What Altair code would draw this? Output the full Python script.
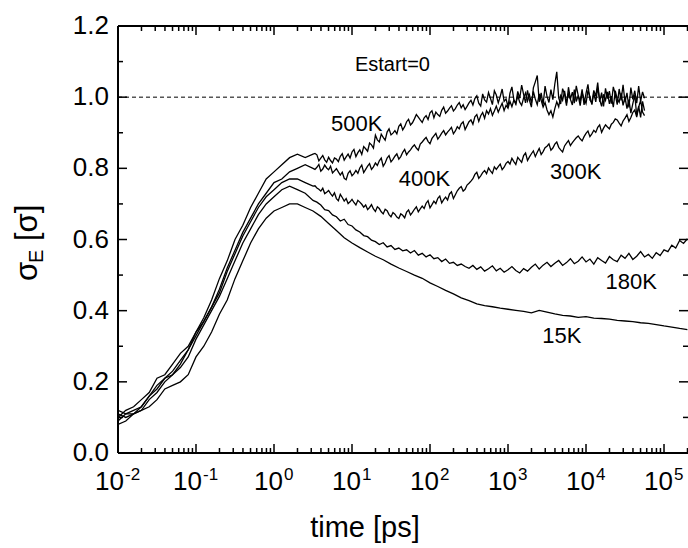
import altair as alt
import pandas as pd

# ---------------- data (log10 of time in ps, sigma_E values) ----------------
T_RISE = [-2.0, -1.9, -1.8, -1.7, -1.6, -1.5, -1.4, -1.3, -1.2, -1.1, -1.0, -0.9, -0.8,
          -0.7, -0.6, -0.5, -0.4, -0.3, -0.2, -0.1, 0.0, 0.1, 0.2, 0.3, 0.4, 0.5]
T_MID = [0.55, 0.6, 0.65, 0.7, 0.75, 0.8, 0.85, 0.9, 0.95, 1.0, 1.05, 1.1, 1.15, 1.2,
         1.25, 1.3, 1.35, 1.4, 1.45, 1.5, 1.55, 1.6, 1.65, 1.7, 1.75, 1.8, 1.85, 1.9,
         1.95, 2.0, 2.05, 2.1, 2.15, 2.2, 2.25, 2.3, 2.35, 2.4, 2.45, 2.5]
T_MID2 = [0.525, 0.55, 0.575, 0.6, 0.625, 0.65, 0.675, 0.7, 0.725, 0.75, 0.775, 0.8,
          0.825, 0.85, 0.875, 0.9, 0.925, 0.95, 0.975, 1.0, 1.025, 1.05, 1.075, 1.1,
          1.125, 1.15, 1.175, 1.2, 1.225, 1.25, 1.275, 1.3, 1.325, 1.35, 1.375, 1.4,
          1.425, 1.45, 1.475, 1.5, 1.525, 1.55, 1.575, 1.6, 1.625, 1.65, 1.675, 1.7,
          1.725, 1.75, 1.775, 1.8, 1.825, 1.85, 1.875, 1.9, 1.925, 1.95, 1.975, 2.0,
          2.025, 2.05, 2.075, 2.1, 2.125, 2.15, 2.175, 2.2, 2.225, 2.25, 2.275, 2.3,
          2.325, 2.35, 2.375, 2.4, 2.425, 2.45, 2.475, 2.5]
T_DENSE = [2.525, 2.55, 2.575, 2.6, 2.625, 2.65, 2.675, 2.7, 2.725, 2.75, 2.775, 2.8,
           2.825, 2.85, 2.875, 2.9, 2.925, 2.95, 2.975, 3.0, 3.025, 3.05, 3.075, 3.1,
           3.125, 3.15, 3.175, 3.2, 3.225, 3.25, 3.275, 3.3, 3.325, 3.35, 3.375, 3.4,
           3.425, 3.45, 3.475, 3.5, 3.525, 3.55, 3.575, 3.6, 3.625, 3.65, 3.675, 3.7,
           3.725, 3.75, 3.775, 3.8, 3.825, 3.85, 3.875, 3.9, 3.925, 3.95, 3.975, 4.0,
           4.025, 4.05, 4.075, 4.1, 4.125, 4.15, 4.175, 4.2, 4.225, 4.25, 4.275, 4.3,
           4.325, 4.35, 4.375, 4.4, 4.425, 4.45, 4.475, 4.5, 4.525, 4.55, 4.575, 4.6,
           4.625, 4.65, 4.675, 4.7, 4.725, 4.75]
T_LATE = [2.55, 2.6, 2.65, 2.7, 2.75, 2.8, 2.85, 2.9, 2.95, 3.0, 3.05, 3.1, 3.15, 3.2,
          3.25, 3.3, 3.35, 3.4, 3.45, 3.5, 3.55, 3.6, 3.65, 3.7, 3.75, 3.8, 3.85, 3.9,
          3.95, 4.0, 4.05, 4.1, 4.15, 4.2, 4.25, 4.3, 4.35, 4.4, 4.45, 4.5, 4.55, 4.6,
          4.65, 4.7, 4.75, 4.8, 4.85, 4.9, 4.95, 5.0, 5.05, 5.1, 5.15, 5.2, 5.25, 5.3]
T_SMOOTH = [0.6, 0.7, 0.8, 0.9, 1.0, 1.1, 1.2, 1.3, 1.4, 1.5, 1.6, 1.7, 1.8, 1.9, 2.0,
            2.1, 2.2, 2.3, 2.4, 2.5, 2.6, 2.7, 2.8, 2.9, 3.0, 3.1, 3.2, 3.3, 3.4, 3.5,
            3.6, 3.7, 3.8, 3.9, 4.0, 4.1, 4.2, 4.3, 4.4, 4.5, 4.6, 4.7, 4.8, 4.9, 5.0,
            5.1, 5.2, 5.3]

V500_RISE = [0.10, 0.12, 0.13, 0.15, 0.17, 0.21, 0.22, 0.25, 0.28, 0.30, 0.34, 0.38, 0.43,
             0.49, 0.54, 0.60, 0.64, 0.69, 0.73, 0.77, 0.79, 0.81, 0.83, 0.84, 0.83, 0.84]
V500_MID = [0.842, 0.838, 0.821, 0.829, 0.836, 0.824, 0.817, 0.831, 0.822, 0.815,
            0.829, 0.826, 0.819, 0.834, 0.841, 0.823, 0.832, 0.840, 0.829, 0.846,
            0.853, 0.833, 0.844, 0.852, 0.839, 0.861, 0.855, 0.848, 0.871, 0.866,
            0.857, 0.893, 0.880, 0.874, 0.896, 0.887, 0.879, 0.902, 0.911, 0.894,
            0.899, 0.906, 0.897, 0.918, 0.925, 0.908, 0.917, 0.931, 0.938, 0.922,
            0.928, 0.939, 0.951, 0.944, 0.936, 0.929, 0.942, 0.948, 0.937, 0.956,
            0.962, 0.942, 0.958, 0.951, 0.946, 0.963, 0.972, 0.955, 0.961, 0.969,
            0.976, 0.961, 0.968, 0.978, 0.985, 0.970, 0.979, 0.965, 0.974, 0.984]
V500_DENSE = [0.991, 0.978, 0.996, 1.004, 0.983, 0.975, 1.009, 0.992, 0.986, 1.013,
              0.997, 0.979, 1.018, 1.006, 0.984, 1.002, 1.023, 0.988, 0.995, 0.973,
              1.011, 1.029, 0.993, 0.981, 1.016, 0.997, 1.034, 1.008, 0.984, 1.019,
              0.991, 0.972, 1.026, 1.043, 1.061, 0.987, 1.012, 0.979, 1.031, 1.002,
              0.985, 1.021, 0.993, 1.037, 1.071, 0.998, 0.981, 1.024, 1.009, 0.976,
              1.028, 0.995, 1.014, 0.983, 1.032, 1.005, 0.989, 1.022, 0.978, 1.011,
              1.036, 0.992, 0.984, 1.019, 1.003, 1.041, 0.987, 1.013, 0.974, 1.025,
              0.996, 1.017, 0.982, 1.029, 1.008, 0.979, 1.023, 0.991, 1.035, 0.986,
              1.012, 0.971, 1.027, 0.994, 1.018, 0.983, 1.031, 0.989, 1.015, 0.997]

V400_RISE = [0.09, 0.11, 0.12, 0.13, 0.16, 0.18, 0.21, 0.23, 0.26, 0.29, 0.33, 0.37, 0.41,
             0.46, 0.52, 0.57, 0.62, 0.66, 0.70, 0.73, 0.76, 0.77, 0.79, 0.80, 0.81, 0.80]
V400_MID = [0.797, 0.803, 0.811, 0.792, 0.798, 0.809, 0.801, 0.796, 0.806, 0.787,
            0.793, 0.799, 0.790, 0.781, 0.789, 0.772, 0.768, 0.786, 0.793, 0.779,
            0.785, 0.794, 0.786, 0.801, 0.809, 0.788, 0.797, 0.806, 0.813, 0.797,
            0.804, 0.815, 0.808, 0.821, 0.829, 0.806, 0.815, 0.829, 0.836, 0.818,
            0.825, 0.834, 0.841, 0.826, 0.833, 0.845, 0.853, 0.838, 0.846, 0.852,
            0.860, 0.866, 0.857, 0.851, 0.868, 0.874, 0.881, 0.887, 0.876, 0.869,
            0.884, 0.891, 0.898, 0.882, 0.890, 0.899, 0.906, 0.894, 0.902, 0.908,
            0.915, 0.897, 0.905, 0.917, 0.911, 0.925, 0.931, 0.909, 0.920, 0.931]
V400_DENSE = [0.936, 0.924, 0.945, 0.951, 0.932, 0.948, 0.957, 0.941, 0.962, 0.953,
              0.968, 0.949, 0.961, 0.975, 0.958, 0.971, 0.983, 0.962, 0.977, 0.969,
              0.988, 0.973, 0.992, 0.981, 1.004, 0.986, 0.977, 0.998, 1.012, 0.989,
              1.007, 0.984, 1.016, 0.995, 0.979, 1.009, 0.991, 0.972, 0.985, 0.964,
              0.951, 0.962, 0.944, 0.968, 0.987, 0.973, 1.004, 0.991, 1.018, 0.983,
              1.009, 0.994, 0.978, 1.021, 0.988, 1.005, 0.976, 1.013, 0.996, 0.982,
              1.019, 1.002, 0.979, 1.011, 0.987, 1.026, 0.993, 0.974, 1.008, 0.991,
              1.015, 0.981, 1.003, 0.972, 1.018, 0.995, 0.986, 1.012, 0.977, 1.001,
              0.968, 0.993, 0.955, 0.982, 1.006, 0.949, 0.975, 0.943, 0.988, 0.962]

V300_RISE = [0.11, 0.10, 0.11, 0.12, 0.15, 0.17, 0.20, 0.22, 0.25, 0.29, 0.34, 0.37, 0.41,
             0.45, 0.51, 0.56, 0.61, 0.65, 0.69, 0.72, 0.74, 0.76, 0.77, 0.77, 0.76, 0.75]
V300_MID = [0.751, 0.745, 0.741, 0.736, 0.744, 0.729, 0.733, 0.738, 0.729, 0.722,
            0.731, 0.715, 0.709, 0.727, 0.718, 0.708, 0.715, 0.701, 0.706, 0.713,
            0.704, 0.697, 0.710, 0.705, 0.699, 0.691, 0.697, 0.684, 0.690, 0.698,
            0.686, 0.679, 0.692, 0.687, 0.678, 0.672, 0.685, 0.681, 0.670, 0.664,
            0.676, 0.671, 0.663, 0.659, 0.672, 0.668, 0.661, 0.677, 0.683, 0.669,
            0.676, 0.685, 0.692, 0.678, 0.686, 0.694, 0.687, 0.702, 0.709, 0.689,
            0.698, 0.708, 0.701, 0.716, 0.722, 0.703, 0.712, 0.719, 0.711, 0.728,
            0.734, 0.715, 0.726, 0.737, 0.744, 0.749, 0.736, 0.741, 0.753, 0.758]
V300_LATE = [0.764, 0.771, 0.783, 0.789, 0.772, 0.779, 0.788, 0.794, 0.785, 0.801,
             0.793, 0.786, 0.804, 0.797, 0.805, 0.812, 0.796, 0.803, 0.814, 0.819,
             0.812, 0.828, 0.819, 0.811, 0.831, 0.824, 0.817, 0.836, 0.843, 0.822,
             0.832, 0.841, 0.849, 0.833, 0.845, 0.856, 0.839, 0.847, 0.858, 0.862,
             0.869, 0.851, 0.857, 0.868, 0.874, 0.859, 0.852, 0.846, 0.863, 0.871,
             0.878, 0.864, 0.872, 0.879, 0.886, 0.891, 0.883, 0.877, 0.889, 0.898,
             0.905, 0.889, 0.897, 0.907, 0.901, 0.915, 0.922, 0.901, 0.913, 0.922,
             0.916, 0.911, 0.924, 0.929, 0.939, 0.936, 0.927, 0.919, 0.933, 0.941,
             0.951, 0.932, 0.943, 0.957, 0.964, 0.944, 0.972, 0.991, 0.958, 0.948]

V180_RISE = [0.08, 0.09, 0.11, 0.13, 0.16, 0.19, 0.21, 0.22, 0.24, 0.27, 0.32, 0.36, 0.40,
             0.44, 0.49, 0.54, 0.59, 0.63, 0.67, 0.70, 0.72, 0.74, 0.75, 0.74, 0.73, 0.71]
V180_MID = [0.705, 0.697, 0.684, 0.681, 0.669, 0.664, 0.652, 0.657, 0.642, 0.638,
            0.627, 0.621, 0.611, 0.608, 0.598, 0.594, 0.586, 0.591, 0.579, 0.583,
            0.572, 0.576, 0.568, 0.571, 0.562, 0.569, 0.556, 0.561, 0.551, 0.557,
            0.546, 0.549, 0.538, 0.545, 0.533, 0.536, 0.527, 0.531, 0.524, 0.519]
V180_LATE = [0.527, 0.516, 0.523, 0.511, 0.518, 0.526, 0.512, 0.519, 0.508, 0.515,
             0.524, 0.513, 0.506, 0.518, 0.511, 0.522, 0.531, 0.517, 0.528, 0.536,
             0.524, 0.533, 0.541, 0.527, 0.535, 0.546, 0.532, 0.539, 0.551, 0.537,
             0.545, 0.531, 0.549, 0.541, 0.534, 0.552, 0.543, 0.538, 0.556, 0.547,
             0.561, 0.544, 0.553, 0.566, 0.551, 0.558, 0.547, 0.563, 0.555, 0.571,
             0.566, 0.584, 0.576, 0.597, 0.589, 0.602]

V15_RISE = [0.12, 0.11, 0.11, 0.12, 0.13, 0.15, 0.18, 0.19, 0.20, 0.22, 0.27, 0.30, 0.34,
            0.39, 0.43, 0.49, 0.54, 0.59, 0.63, 0.66, 0.68, 0.69, 0.70, 0.70, 0.69, 0.68]
V15_SMOOTH = [0.665, 0.645, 0.625, 0.605, 0.590, 0.577, 0.565, 0.553, 0.543, 0.531, 0.520,
              0.510, 0.500, 0.491, 0.478, 0.468, 0.457, 0.447, 0.436, 0.428, 0.419, 0.414,
              0.411, 0.407, 0.404, 0.401, 0.398, 0.394, 0.401, 0.396, 0.391, 0.387, 0.385,
              0.381, 0.383, 0.379, 0.378, 0.376, 0.373, 0.371, 0.369, 0.366, 0.364, 0.361,
              0.357, 0.354, 0.350, 0.347]

LABELS = ["500K", "400K", "300K", "180K", "15K"]
LABEL_T = [11.5, 85, 7400, 38000, 4900]
LABEL_V = [0.925, 0.77, 0.79, 0.48, 0.33]
NOTE = ["Estart=0"]
NOTE_T = [33]
NOTE_V = [1.09]

DECADES = [0.01, 0.1, 1, 10, 100, 1000, 10000, 100000]
EXPONENTS = ["-2", "-1", "0", "1", "2", "3", "4", "5"]
Y_MAJOR = [0.0, 0.2, 0.4, 0.6, 0.8, 1.0, 1.2]
Y_LABELS = ["0.0", "0.2", "0.4", "0.6", "0.8", "1.0", "1.2"]
Y_MINOR = [0.1, 0.3, 0.5, 0.7, 0.9, 1.1]
X_TITLE = "time [ps]"
Y_TITLE_PARTS = ["σ", "E", "[σ]"]

# ---------------- layout ----------------
W, H = 570, 427
X_MIN, X_MAX = 0.01, 2.03e5
FONT = "Liberation Sans"

series = [
    ("500K", T_RISE + T_MID2 + T_DENSE, V500_RISE + V500_MID + V500_DENSE),
    ("400K", T_RISE + T_MID2 + T_DENSE, V400_RISE + V400_MID + V400_DENSE),
    ("300K", T_RISE + T_MID2 + T_DENSE, V300_RISE + V300_MID + V300_LATE),
    ("180K", T_RISE + T_MID + T_LATE, V180_RISE + V180_MID + V180_LATE),
    ("15K", T_RISE + T_SMOOTH, V15_RISE + V15_SMOOTH),
]
rows = []
for name, lt, vals in series:
    assert len(lt) == len(vals), (name, len(lt), len(vals))
    for a, b in zip(lt, vals):
        rows.append({"series": name, "t": 10 ** a, "v": b})
df = pd.DataFrame(rows)

xs = alt.Scale(type="log", domain=[X_MIN, X_MAX], nice=False)
ys = alt.Scale(domain=[0, 1.2], nice=False, zero=False)

lines = alt.Chart(df).mark_line(color="black", strokeWidth=1.3, clip=True).encode(
    x=alt.X("t:Q", scale=xs, axis=None),
    y=alt.Y("v:Q", scale=ys, axis=None),
    detail="series:N",
)

X_MINOR = [m * d for d in DECADES for m in range(2, 10) if m * d < X_MAX]


def xticks(vals, length, top):
    d = pd.DataFrame({"t": vals})
    if top:
        y, y2 = alt.value(0), alt.value(length)
    else:
        y, y2 = alt.value(H), alt.value(H - length)
    return alt.Chart(d).mark_rule(color="black", strokeWidth=1.5).encode(
        x=alt.X("t:Q", scale=xs, axis=None), y=y, y2=y2)


def yticks(vals, length, right):
    d = pd.DataFrame({"v": vals})
    if right:
        x, x2 = alt.value(W), alt.value(W - length)
    else:
        x, x2 = alt.value(0), alt.value(length)
    return alt.Chart(d).mark_rule(color="black", strokeWidth=1.5).encode(
        y=alt.Y("v:Q", scale=ys, axis=None), x=x, x2=x2)


ticks = [
    xticks(DECADES, 9, False), xticks(X_MINOR, 5, False),
    xticks(DECADES, 9, True), xticks(X_MINOR, 5, True),
    yticks(Y_MAJOR, 9, False), yticks(Y_MINOR, 5, False),
    yticks(Y_MAJOR, 9, True), yticks(Y_MINOR, 5, True),
]

# frame: top, bottom (through y scale) and left (through x scale)
hframe = alt.Chart(pd.DataFrame({"v": [0.0, 1.2]})).mark_rule(color="black", strokeWidth=2).encode(
    y=alt.Y("v:Q", scale=ys, axis=None), x=alt.value(0), x2=alt.value(W))
vframe = alt.Chart(pd.DataFrame({"t": [X_MIN]})).mark_rule(color="black", strokeWidth=2).encode(
    x=alt.X("t:Q", scale=xs, axis=None), y=alt.value(0), y2=alt.value(H))

ref_line = alt.Chart(pd.DataFrame({"v": [1.0]})).mark_rule(
    color="black", strokeWidth=1, strokeDash=[4, 3]).encode(
    y=alt.Y("v:Q", scale=ys, axis=None), x=alt.value(0), x2=alt.value(W))

lab_df = pd.DataFrame({"t": LABEL_T, "v": LABEL_V, "lab": LABELS})
labels = alt.Chart(lab_df).mark_text(font=FONT, fontSize=22, color="black",
                                     align="center", baseline="middle").encode(
    x=alt.X("t:Q", scale=xs, axis=None), y=alt.Y("v:Q", scale=ys, axis=None), text="lab:N")

note_df = pd.DataFrame({"t": NOTE_T, "v": NOTE_V, "lab": NOTE})
note = alt.Chart(note_df).mark_text(font=FONT, fontSize=20, color="black",
                                    align="center", baseline="middle").encode(
    x=alt.X("t:Q", scale=xs, axis=None), y=alt.Y("v:Q", scale=ys, axis=None), text="lab:N")

ylab_df = pd.DataFrame({"v": Y_MAJOR, "lab": Y_LABELS})
ylabels = alt.Chart(ylab_df).mark_text(font=FONT, fontSize=26, color="black",
                                       align="right", baseline="middle", dx=-9).encode(
    x=alt.value(0), y=alt.Y("v:Q", scale=ys, axis=None), text="lab:N")

dec_df = pd.DataFrame({"t": DECADES, "e": EXPONENTS, "b": ["10"] * len(DECADES)})
neg_df = dec_df[dec_df["e"].str.startswith("-")]
pos_df = dec_df[~dec_df["e"].str.startswith("-")]


def dec_labels(d, dx_base, dx_exp):
    base = alt.Chart(d).mark_text(font=FONT, fontSize=26, color="black", align="right",
                                  baseline="alphabetic", dx=dx_base).encode(
        x=alt.X("t:Q", scale=xs, axis=None), y=alt.value(H + 37), text="b:N")
    exp = alt.Chart(d).mark_text(font=FONT, fontSize=17, color="black", align="left",
                                 baseline="alphabetic", dx=dx_exp).encode(
        x=alt.X("t:Q", scale=xs, axis=None), y=alt.value(H + 27), text="e:N")
    return [base, exp]


xlabels = dec_labels(neg_df, 6, 7) + dec_labels(pos_df, 9, 10)

xtitle = alt.Chart(pd.DataFrame({"s": [X_TITLE]})).mark_text(
    font=FONT, fontSize=29, color="black", align="center", baseline="alphabetic").encode(
    x=alt.value(247), y=alt.value(H + 84), text="s:N")

yt = []
for part, size, dx, dy in zip(Y_TITLE_PARTS, [31, 20, 31], [0, 18, 40], [0, 6, 0]):
    yt.append(alt.Chart(pd.DataFrame({"s": [part]})).mark_text(
        font=FONT, fontSize=size, color="black", align="left", baseline="alphabetic",
        angle=270, dx=dx, dy=dy).encode(x=alt.value(-81), y=alt.value(255), text="s:N"))

chart = alt.layer(lines, ref_line, hframe, vframe, *ticks, labels, note, ylabels,
                  *xlabels, xtitle, *yt).properties(
    width=W, height=H,
    padding={"left": 118, "top": 26, "right": 0, "bottom": 95},
    autosize=alt.AutoSizeParams(type="none"),
    background="white",
).configure_view(strokeWidth=0)

chart.save("out.html", embed_options={"renderer": "svg", "actions": False})
